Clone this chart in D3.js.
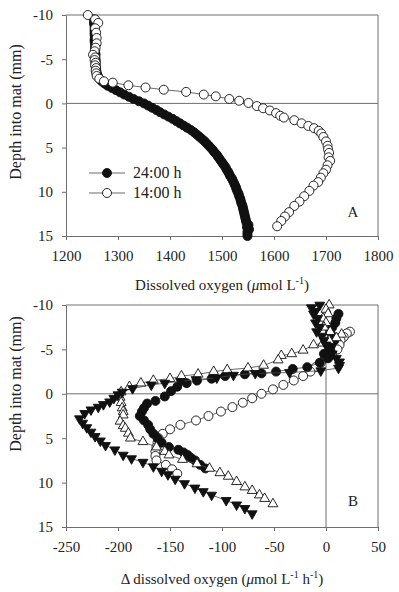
<!DOCTYPE html>
<html>
<head>
<meta charset="utf-8">
<script src="https://cdn.jsdelivr.net/npm/d3@7"></script>
<style>
  body { margin: 0; background: #fff; }
  svg { display: block; }
  text { font-family: "Liberation Serif", "Times New Roman", serif; fill: #222; }
</style>
</head>
<body>
<svg width="399" height="592"></svg>
<script>
// panel A: [depth mm, O2 umol/L]
const night24A = [
  [-9.5,1254],[-9.25,1254],[-9,1254],[-8.75,1255],[-8.5,1255],[-8.25,1255],[-8,1255],[-7.75,1255],
  [-7.5,1256],[-7.25,1255],[-7,1255],[-6.75,1256],[-6.5,1256],[-6.25,1256],[-6,1256],[-5.75,1256],
  [-5.5,1257],[-5.25,1256],[-5,1257],[-4.75,1257],[-4.5,1257],[-4.25,1257],[-4,1258],[-3.75,1258],
  [-3.5,1259],[-3.25,1260],[-3,1262],[-2.75,1265],[-2.5,1269],[-2.25,1274],[-2,1280],[-1.75,1288],
  [-1.5,1296],[-1.25,1304],[-1,1312],[-0.75,1321],[-0.5,1330],[-0.25,1340],[0,1350],[0.25,1358],
  [0.5,1366],[0.75,1374],[1,1381],[1.25,1389],[1.5,1397],[1.75,1405],[2,1412],[2.25,1419],
  [2.5,1426],[2.75,1433],[3,1440],[3.25,1446],[3.5,1451],[3.75,1456],[4,1461],[4.25,1466],
  [4.5,1470],[4.75,1474],[5,1478],[5.25,1482],[5.5,1485],[5.75,1489],[6,1492],[6.25,1495],
  [6.5,1498],[6.75,1501],[7,1504],[7.25,1507],[7.5,1509],[7.75,1512],[8,1514],[8.25,1516],
  [8.5,1519],[8.75,1521],[9,1523],[9.25,1525],[9.5,1527],[9.75,1528],[10,1530],[10.25,1532],
  [10.5,1533],[10.75,1535],[11,1536],[11.25,1537],[11.5,1539],[11.75,1540],[12,1541],[12.25,1542],
  [12.5,1543],[12.75,1544],[13,1545],[13.25,1546],[13.5,1547],[13.75,1551],[14,1548],[14.25,1552],
  [14.5,1549],[14.75,1549],[15,1549]
];
const day14A = [
  [-10,1242],[-9.5,1256],[-9.1,1262],[-8.5,1256],[-8.0,1258],[-7.4,1259],[-6.8,1259],[-6.3,1257],
  [-5.9,1255],[-5.5,1252],[-5.2,1256],[-4.9,1255],[-4.6,1257],[-4.3,1256],[-4.0,1258],[-3.7,1257],
  [-3.4,1258],[-3.1,1259],[-2.8,1264],[-2.5,1273],[-2.35,1290],[-2.05,1320],[-1.8,1353],[-1.55,1388],
  [-1.3,1431],[-1.0,1465],[-0.8,1488],[-0.5,1514],[-0.3,1533],[-0.05,1551],[0.3,1567],[0.55,1579],
  [0.8,1592],[1.1,1604],[1.4,1612],[1.6,1619],[1.9,1639],[2.25,1653],[2.55,1666],[2.8,1677],
  [3.1,1686],[3.4,1691],[3.8,1695],[4.3,1700],[4.8,1703],[5.2,1704],[5.6,1706],[6.1,1705],
  [6.5,1708],[7.0,1703],[7.5,1700],[7.9,1695],[8.4,1690],[8.9,1685],[9.3,1676],[9.9,1668],
  [10.5,1658],[11.1,1649],[11.6,1639],[12.3,1629],[12.8,1621],[13.3,1614],[13.9,1606]
];

// panel B: [depth mm, delta O2 umol/L/h]
const openCircB = [
  [-7.0,23],[-6.8,20],[-6.4,17],[-6.0,14],[-5.5,13],[-5.0,11],[-4.5,6],[-4.0,-1],[-3.5,-5],
  [-3.0,-10],[-2.5,-15],[-2.0,-22],[-1.5,-31],[-1.0,-41],[-0.5,-51],[0.0,-62],[0.5,-71],[1.0,-80],
  [1.5,-90],[2.0,-101],[2.5,-113],[3.0,-125],[3.5,-140],[4.0,-150],[4.5,-157],[5.0,-161],
  [5.5,-162],[6.0,-163],[6.5,-164],[7.0,-164],[7.5,-163],[8.0,-154],[8.5,-148],[9.0,-143]
];
const filledCircB = [
  [-9.0,12],[-8.5,10],[-8.0,9],[-7.5,6],[-7.0,4],[-6.5,6],[-6.0,8],[-5.5,5],[-5.0,4],[-4.5,-2],
  [-4.0,2],[-3.5,-6],[-3.0,-18],[-2.8,-32],[-2.5,-48],[-2.3,-62],[-2.2,-78],[-2.0,-97],[-1.7,-110],
  [-1.5,-124],[-1.2,-134],[-0.8,-143],[-0.3,-149],[0.3,-155],[0.8,-164],[1.1,-172],[1.6,-175],
  [2.0,-177],[2.5,-179],[3.0,-175],[3.5,-171],[4.0,-169],[4.5,-166],[5.0,-162],[5.5,-158],
  [6.0,-151],[6.3,-142],[6.6,-137],[6.9,-133],[7.2,-130],[7.5,-126],[8.0,-121],[8.4,-116]
];
const filledTriB = [
  [-10.0,-6],[-9.7,-14],[-9.3,-10],[-9.0,-12],[-8.5,-8],[-8.0,-10],[-7.5,-6],[-7.0,-9],[-6.5,-4],
  [-6.0,-2],[-5.5,0],[-5.0,3],[-4.5,6],[-4.0,10],[-3.6,13],[-3.2,13],[-2.9,12],[-2.6,-5],[-2.4,-35],
  [-2.3,-68],[-2.1,-89],[-1.8,-105],[-1.6,-125],[-1.4,-140],[-1.2,-155],[-1.0,-168],[-0.6,-186],
  [-0.2,-196],[0.1,-200],[0.5,-204],[0.9,-208],[1.2,-214],[1.5,-219],[1.8,-226],[2.2,-232],
  [2.8,-237],[3.3,-234],[3.8,-230],[4.3,-226],[4.8,-222],[5.3,-217],[5.8,-212],[6.3,-203],
  [6.9,-195],[7.3,-187],[7.7,-176],[8.2,-166],[8.7,-158],[9.1,-152],[9.6,-145],[10.1,-136],
  [10.6,-126],[11.0,-118],[11.4,-110],[12.0,-96],[12.5,-86],[12.9,-78],[13.5,-71]
];
const openTriB = [
  [-10.0,3],[-9.5,0],[-9.0,2],[-8.5,-3],[-8.0,0],[-7.5,-2],[-7.0,4],[-6.7,15],[-6.3,10],[-6.0,3],
  [-5.7,-3],[-5.5,-12],[-4.9,-22],[-4.5,-33],[-4.3,-43],[-3.8,-46],[-3.2,-60],[-2.9,-75],[-2.7,-95],
  [-2.5,-108],[-2.2,-123],[-2.0,-139],[-1.7,-150],[-1.5,-166],[-1.2,-178],[-0.8,-189],[-0.2,-197],
  [0.4,-198],[1.0,-197],[1.6,-196],[2.0,-195],[2.4,-195],[3.1,-198],[3.6,-195],[3.9,-193],
  [4.45,-190],[5.0,-188],[5.4,-176],[6.0,-163],[6.5,-155],[6.9,-151],[7.4,-138],[7.9,-124],
  [8.4,-112],[8.9,-102],[9.3,-94],[9.9,-86],[10.5,-78],[10.9,-71],[11.4,-64],[11.8,-59],[12.4,-51]
];

const depthTicks = [-10, -5, 0, 5, 10, 15];
const xTicksA = [1200, 1300, 1400, 1500, 1600, 1700, 1800];
const xTicksB = [-250, -200, -150, -100, -50, 0, 50];
const legendLabels = ['24:00 h', '14:00 h'];

const svg = d3.select('svg');
const frameColor = '#6e6e6e';

function drawPanel(opts) {
  const { x, y, xTicks } = opts;
  const g = svg.append('g');
  const [x0, x1] = x.range();
  const [y0, y1] = y.range();

  // frame: top and right edges
  g.append('line').attr('x1', x0).attr('x2', x1).attr('y1', y0).attr('y2', y0)
    .attr('stroke', frameColor);
  g.append('line').attr('x1', x1).attr('x2', x1).attr('y1', y0).attr('y2', y1)
    .attr('stroke', frameColor);
  // zero depth line
  g.append('line').attr('x1', x0).attr('x2', x1).attr('y1', y(0)).attr('y2', y(0))
    .attr('stroke', frameColor);

  const yAxis = g.append('g').attr('transform', `translate(${x0},0)`)
    .call(d3.axisLeft(y).tickValues(depthTicks).tickSize(4).tickSizeOuter(0)
      .tickPadding(9).tickFormat(d => String(d)));
  const xAxis = g.append('g').attr('transform', `translate(0,${y1})`)
    .call(d3.axisBottom(x).tickValues(xTicks).tickSize(4).tickSizeOuter(0)
      .tickPadding(10).tickFormat(d => String(d)));
  [yAxis, xAxis].forEach(a => {
    a.attr('font-family', null).attr('font-size', null);
    a.selectAll('path, line').attr('stroke', frameColor);
    a.selectAll('text').attr('font-size', 15).attr('fill', '#222')
      .style('font-family', '"Liberation Serif", serif');
  });
  return g;
}

function drawSeries(g, data, x, y, kind, filled, withLine) {
  const line = d3.line().x(d => x(d[1])).y(d => y(d[0]));
  if (withLine) {
    g.append('path').attr('d', line(data)).attr('fill', 'none')
      .attr('stroke', '#444').attr('stroke-width', 0.8);
  }
  if (kind === 'circle') {
    g.selectAll(null).data(data).enter().append('circle')
      .attr('cx', d => x(d[1])).attr('cy', d => y(d[0])).attr('r', 4.5)
      .attr('fill', filled ? '#111' : '#fff').attr('stroke', '#111').attr('stroke-width', 0.9);
  } else {
    const sym = d3.symbol(d3.symbolTriangle, 42);
    g.selectAll(null).data(data).enter().append('path')
      .attr('d', sym)
      .attr('transform', d => `translate(${x(d[1])},${y(d[0])}) rotate(${kind === 'down' ? 180 : 0})`)
      .attr('fill', filled ? '#111' : '#fff').attr('stroke', '#111').attr('stroke-width', 0.9);
  }
}

function yTitle(cy) {
  svg.append('text').attr('transform', `translate(21,${cy}) rotate(-90)`)
    .attr('text-anchor', 'middle').attr('font-size', 16).text('Depth into mat (mm)');
}

// ---- Panel A ----
const xA = d3.scaleLinear().domain([1200, 1800]).range([66, 378]);
const yA = d3.scaleLinear().domain([-10, 15]).range([15, 236]);
const gA = drawPanel({ x: xA, y: yA, xTicks: xTicksA });
drawSeries(gA, night24A, xA, yA, 'circle', true, true);
drawSeries(gA, day14A, xA, yA, 'circle', false, true);

// legend
legendLabels.forEach((lab, i) => {
  const ly = 173 + i * 20;
  gA.append('line').attr('x1', 89).attr('x2', 125).attr('y1', ly).attr('y2', ly)
    .attr('stroke', '#444').attr('stroke-width', 0.8);
  gA.append('circle').attr('cx', 107).attr('cy', ly).attr('r', 4.5)
    .attr('fill', i === 0 ? '#111' : '#fff').attr('stroke', '#111').attr('stroke-width', 0.9);
  gA.append('text').attr('x', 133).attr('y', ly + 5).attr('font-size', 16).text(lab);
});
gA.append('text').attr('x', 353).attr('y', 217).attr('text-anchor', 'middle')
  .attr('font-size', 15).text('A');

yTitle(112);
const tA = svg.append('text').attr('x', 222).attr('y', 290).attr('text-anchor', 'middle')
  .attr('font-size', 15);
tA.append('tspan').text('Dissolved oxygen (');
tA.append('tspan').attr('font-style', 'italic').text('μ');
tA.append('tspan').text('mol L');
tA.append('tspan').attr('dy', -6).attr('font-size', 10).text('-1');
tA.append('tspan').attr('dy', 6).text(')');

// ---- Panel B ----
const xB = d3.scaleLinear().domain([-250, 50]).range([66, 378]);
const yB = d3.scaleLinear().domain([-10, 15]).range([305, 527]);
const gB = drawPanel({ x: xB, y: yB, xTicks: xTicksB });
gB.append('line').attr('x1', xB(0)).attr('x2', xB(0)).attr('y1', yB.range()[0]).attr('y2', yB.range()[1])
  .attr('stroke', frameColor);
drawSeries(gB, openCircB, xB, yB, 'circle', false, true);
drawSeries(gB, filledCircB, xB, yB, 'circle', true, true);
drawSeries(gB, openTriB, xB, yB, 'up', false, true);
drawSeries(gB, filledTriB, xB, yB, 'down', true, true);
gB.append('text').attr('x', 353).attr('y', 506).attr('text-anchor', 'middle')
  .attr('font-size', 15).text('B');

yTitle(384);
const tB = svg.append('text').attr('x', 222).attr('y', 584).attr('text-anchor', 'middle')
  .attr('font-size', 15);
tB.append('tspan').text('Δ dissolved oxygen (');
tB.append('tspan').attr('font-style', 'italic').text('μ');
tB.append('tspan').text('mol L');
tB.append('tspan').attr('dy', -6).attr('font-size', 10).text('-1');
tB.append('tspan').attr('dy', 6).text(' h');
tB.append('tspan').attr('dy', -6).attr('font-size', 10).text('-1');
tB.append('tspan').attr('dy', 6).text(')');
</script>
</body>
</html>
